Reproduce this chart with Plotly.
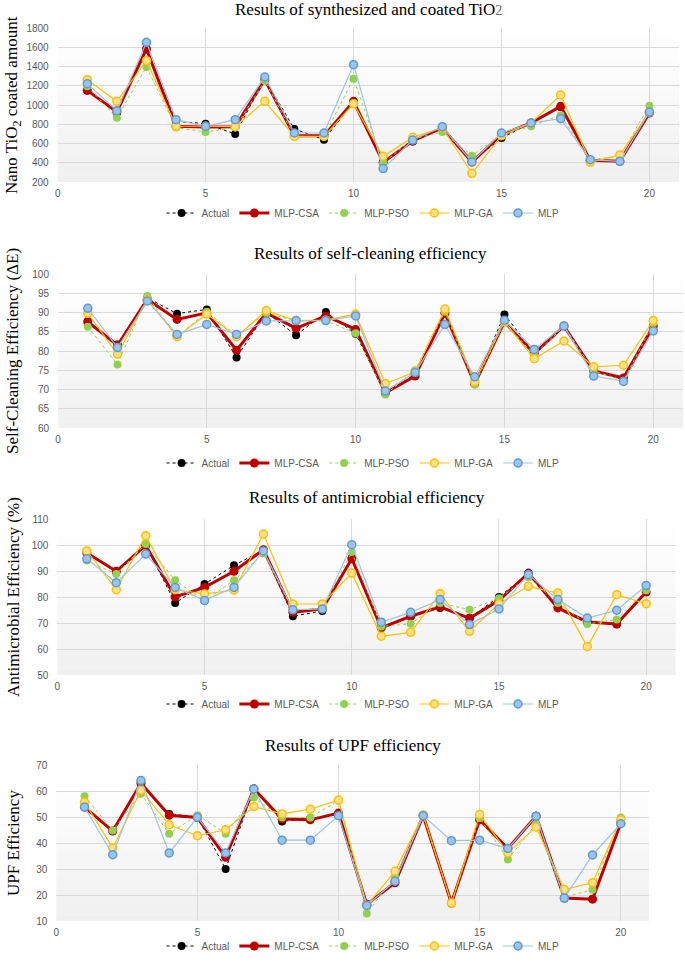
import plotly.graph_objects as go

x_vals = list(range(1, 21))
series_names = ["Actual", "MLP-CSA", "MLP-PSO", "MLP-GA", "MLP"]

# Panel 1: Nano TiO2 coated amount
tio2_actual = [1150, 920, 1580, 830, 806, 699, 1270, 751, 640, 1030, 404, 620, 770, 410, 657, 813, 980, 425, 415, 920]
tio2_csa = [1152, 927, 1582, 779, 772, 775, 1263, 681, 681, 1038, 404, 626, 761, 408, 692, 813, 986, 425, 415, 917]
tio2_pso = [1195, 868, 1395, 765, 720, 765, 1253, 674, 674, 1274, 397, 647, 720, 474, 695, 779, 893, 430, 467, 993]
tio2_ga = [1263, 1038, 1461, 779, 779, 775, 1038, 674, 674, 1014, 467, 664, 765, 290, 681, 813, 1104, 404, 481, 927]
tio2_mlp = [1222, 941, 1651, 848, 779, 848, 1291, 709, 709, 1419, 339, 636, 775, 408, 709, 813, 858, 432, 415, 927]

# Panel 2: Self-cleaning efficiency
sc_actual = [87.8, 81.7, 93.8, 89.7, 90.8, 78.3, 90.0, 84.1, 90.1, 84.5, 69.0, 74.0, 90.0, 71.5, 89.5, 79.5, 86.5, 75.0, 72.5, 86.0]
sc_csa = [87.6, 81.5, 93.4, 88.2, 89.9, 80.2, 89.9, 85.9, 89.1, 85.6, 69.1, 73.5, 89.8, 71.5, 87.6, 79.3, 86.5, 74.8, 73.0, 86.5]
sc_pso = [86.3, 76.5, 94.3, 83.7, 90.2, 83.9, 89.9, 87.8, 87.9, 84.6, 68.7, 75.0, 90.2, 71.3, 87.6, 78.9, 86.5, 74.8, 72.3, 87.2]
sc_ga = [89.8, 79.2, 93.4, 83.7, 89.6, 83.7, 90.5, 87.9, 88.0, 89.6, 71.5, 74.6, 90.9, 72.0, 87.6, 78.0, 82.6, 75.9, 76.3, 87.9]
sc_mlp = [91.1, 80.9, 93.0, 84.3, 86.9, 84.3, 87.8, 87.9, 87.9, 89.1, 69.6, 74.4, 86.9, 73.3, 88.0, 80.4, 86.5, 73.5, 72.1, 85.2]

# Panel 3: Antimicrobial efficiency
am_actual = [97.0, 89.5, 100.0, 77.7, 85.0, 92.2, 98.0, 72.6, 74.6, 95.0, 68.5, 72.5, 75.8, 72.0, 80.0, 89.0, 76.0, 70.5, 69.5, 82.0]
am_csa = [96.9, 89.9, 99.9, 80.0, 83.7, 89.9, 98.2, 74.1, 75.4, 94.7, 68.1, 72.6, 76.2, 71.8, 78.7, 89.2, 75.8, 70.4, 69.6, 81.9]
am_pso = [94.0, 88.8, 100.4, 86.4, 78.5, 86.4, 96.7, 74.9, 75.6, 97.3, 68.7, 69.7, 77.7, 75.1, 79.5, 87.6, 77.7, 69.6, 71.3, 82.6]
am_ga = [97.7, 82.8, 103.6, 82.8, 81.2, 82.6, 104.2, 77.3, 77.3, 89.2, 64.9, 66.4, 81.3, 66.8, 77.4, 84.1, 81.5, 60.9, 80.9, 77.4]
am_mlp = [94.7, 85.5, 96.5, 83.7, 78.7, 83.7, 97.7, 75.1, 75.4, 100.1, 70.3, 74.1, 79.0, 69.4, 75.4, 88.6, 79.0, 71.9, 74.9, 84.4]

# Panel 4: UPF efficiency
upf_actual = [54.0, 44.7, 63.0, 51.2, 50.0, 30.0, 61.0, 48.3, 49.5, 51.0, 16.0, 25.0, 50.5, 17.0, 49.0, 38.0, 50.5, 19.0, 18.5, 47.5]
upf_csa = [53.8, 44.6, 63.0, 50.7, 49.8, 34.5, 60.8, 49.2, 48.9, 51.5, 16.4, 24.7, 50.5, 16.9, 48.9, 37.9, 50.3, 18.8, 18.4, 47.6]
upf_pso = [58.0, 44.8, 58.9, 43.6, 50.7, 43.6, 57.5, 49.8, 49.8, 56.3, 12.9, 27.0, 50.5, 16.9, 49.6, 33.7, 47.3, 19.2, 22.0, 49.8]
upf_ga = [55.7, 38.1, 60.3, 47.0, 42.8, 45.1, 54.0, 51.2, 53.0, 56.5, 16.0, 29.1, 50.8, 16.9, 51.0, 36.2, 46.2, 22.1, 24.7, 48.9]
upf_mlp = [53.8, 35.5, 64.0, 36.2, 49.9, 36.2, 60.8, 41.1, 41.1, 50.5, 16.0, 25.3, 50.5, 40.9, 41.1, 37.9, 50.3, 18.8, 35.4, 47.4]

panel_titles = [
    "Results of synthesized and coated TiO<span style='font-size:14px;color:#666'>2</span>",
    "Results of self-cleaning efficiency",
    "Results of antimicrobial efficiency",
    "Results of UPF efficiency",
]
y_titles = [
    "Nano TiO<sub>2</sub> coated amount",
    "Self-Cleaning Efficiency (ΔE)",
    "Antimicrobial Efficiency (%)",
    "UPF Efficiency",
]
y_ranges = [[200, 1800], [60, 100], [50, 110], [10, 70]]
y_dticks = [200, 5, 10, 10]
x_ticks = [0, 5, 10, 15, 20]

panels = [
    [tio2_actual, tio2_csa, tio2_pso, tio2_ga, tio2_mlp],
    [sc_actual, sc_csa, sc_pso, sc_ga, sc_mlp],
    [am_actual, am_csa, am_pso, am_ga, am_mlp],
    [upf_actual, upf_csa, upf_pso, upf_ga, upf_mlp],
]

W, H = 685, 963
# plot-area pixel boxes: left, right, top, bottom
boxes = [(57.7, 679, 28, 182), (58, 683, 274, 428), (57.4, 675.6, 519, 675), (56.3, 649, 765, 921)]
title_y = [10, 253, 497, 745]
legend_y = [213, 463, 704, 946]

styles = [
    dict(line=dict(color="#000000", width=1, dash="dot"),
         marker=dict(color="#000000", size=8)),
    dict(line=dict(color="#C00000", width=3),
         marker=dict(color="#C00000", size=9)),
    dict(line=dict(color="#92D050", width=1, dash="dot"),
         marker=dict(color="#92D050", size=8)),
    dict(line=dict(color="#FFC000", width=1.2),
         marker=dict(color="#FFE08A", size=8, line=dict(color="#FFC000", width=1.5))),
    dict(line=dict(color="#9DC3E6", width=1.2),
         marker=dict(color="#9DC3E6", size=8, line=dict(color="#5B9BD5", width=1.5))),
]

fig = go.Figure()
layout = dict(
    width=W, height=H, margin=dict(l=0, r=0, t=0, b=0, autoexpand=False),
    paper_bgcolor="white", plot_bgcolor="white", showlegend=True,
)
annotations = []
shapes = []
tick_font = dict(family="Liberation Sans, Arial, sans-serif", size=10, color="#595959")

for p in range(4):
    l, r, t, b = boxes[p]
    xa = "x" if p == 0 else f"x{p+1}"
    ya = "y" if p == 0 else f"y{p+1}"
    lg = "legend" if p == 0 else f"legend{p+1}"
    for s in range(5):
        fig.add_trace(go.Scatter(
            x=x_vals, y=panels[p][s], name=series_names[s],
            mode="lines+markers", xaxis=xa, yaxis=ya, legend=lg,
            **styles[s]))
    xkey = "xaxis" if p == 0 else f"xaxis{p+1}"
    ykey = "yaxis" if p == 0 else f"yaxis{p+1}"
    layout[xkey] = dict(
        domain=[l / W, r / W], anchor=ya, range=[0, 21],
        tickvals=x_ticks, showgrid=True, gridcolor="#D9D9D9", gridwidth=1,
        zeroline=False, showline=False, ticks="", tickfont=tick_font,
        ticklabelstandoff=4)
    layout[ykey] = dict(
        domain=[1 - b / H, 1 - t / H], anchor=xa, range=y_ranges[p],
        dtick=y_dticks[p], tick0=y_ranges[p][0], showgrid=True,
        gridcolor="#D9D9D9", gridwidth=1, zeroline=False, showline=False,
        ticks="", tickfont=tick_font, ticklabelstandoff=8)
    layout[lg] = dict(
        orientation="h", x=0.53, xanchor="center", y=1 - legend_y[p] / H,
        yanchor="middle", font=dict(family="Liberation Sans, Arial, sans-serif", size=10, color="#595959"),
        bgcolor="rgba(0,0,0,0)", itemwidth=30, tracegroupgap=0)
    annotations.append(dict(
        text=panel_titles[p], x=(l + r) / 2 / W, y=1 - title_y[p] / H,
        xref="paper", yref="paper", showarrow=False, xanchor="center", yanchor="middle",
        font=dict(family="Liberation Serif, Times New Roman, serif", size=17, color="#000000")))
    annotations.append(dict(
        text=y_titles[p], x=13 / W, y=1 - (t + b) / 2 / H, textangle=-90,
        xref="paper", yref="paper", showarrow=False, xanchor="center", yanchor="middle",
        font=dict(family="Liberation Serif, Times New Roman, serif", size=17, color="#000000")))
    # vertical gradient background of the plot area
    n = 24
    for i in range(n):
        frac = i / n
        c = int(round(255 - 15 * (1 - frac) ** 1.2))
        shapes.append(dict(
            type="rect", xref=f"{xa} domain", yref=f"{ya} domain",
            x0=0, x1=1, y0=frac, y1=(i + 1) / n + 0.002,
            fillcolor=f"rgb({c},{c},{c})", line=dict(width=0), layer="below"))

layout["annotations"] = annotations
layout["shapes"] = shapes
fig.update_layout(**layout)
fig.write_html("out.html", config={"displayModeBar": False},
               post_script="document.body.style.margin='0';document.body.style.overflow='hidden';")
